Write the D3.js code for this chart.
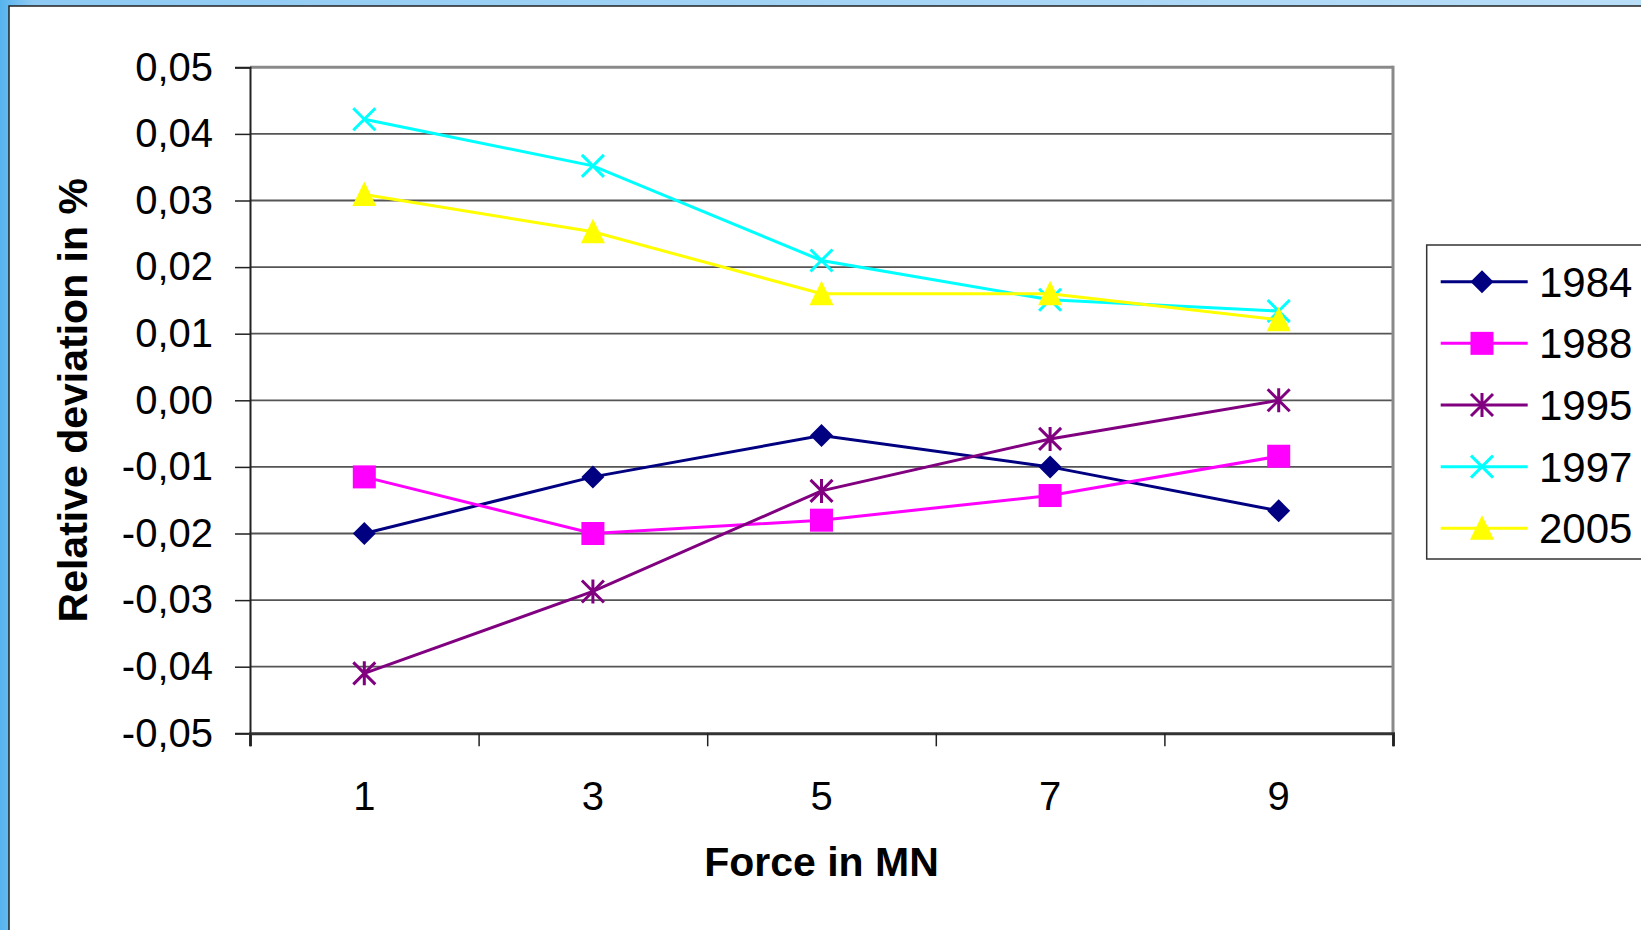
<!DOCTYPE html>
<html lang="en">
    <head>
        <meta charset="utf-8"/>
        <script src="https://d3js.org/d3.v7.min.js"></script>
        <style>
            body { margin: 0; overflow: hidden; }
            text { font-family: Arial, "Liberation Sans", sans-serif; }
        </style>
    </head>
    <body>
        <div id="chart"></div>
    </body>
    <script>
        // data
        var forces = ["1", "3", "5", "7", "9"];
        var years = ["1984", "1988", "1995", "1997", "2005"];
        var dev1984 = [-0.0200, -0.0115, -0.0053, -0.0100, -0.0166];
        var dev1988 = [-0.0115, -0.0200, -0.0180, -0.0143, -0.0084];
        var dev1995 = [-0.0410, -0.0287, -0.0136, -0.0058, 0.0000];
        var dev1997 = [0.0422, 0.0352, 0.0210, 0.0151, 0.0134];
        var dev2005 = [0.0309, 0.0253, 0.0160, 0.0160, 0.0121];
        var yTicks = [-0.05, -0.04, -0.03, -0.02, -0.01, 0, 0.01, 0.02, 0.03, 0.04, 0.05];

        var series = [
            {name: years[0], values: dev1984, color: "#000080", shape: "diamond"},
            {name: years[1], values: dev1988, color: "#ff00ff", shape: "square"},
            {name: years[2], values: dev1995, color: "#800080", shape: "star"},
            {name: years[3], values: dev1997, color: "#00ffff", shape: "cross"},
            {name: years[4], values: dev2005, color: "#ffff00", shape: "triangle"}
        ];

        var W = 1641, H = 930;
        var plot = {left: 250, right: 1393, top: 67.3, bottom: 733.3};

        var svg = d3.select("#chart")
            .append("svg")
                .attr("width", W)
                .attr("height", H)

        // blue frame behind the white slide
        var defs = svg.append("defs")
        var grad = defs.append("linearGradient").attr("id", "bg")
            .attr("x1", "0").attr("y1", "0").attr("x2", "1").attr("y2", "0")
        grad.append("stop").attr("offset", "0").attr("stop-color", "#56b3ee")
        grad.append("stop").attr("offset", "0.02").attr("stop-color", "#8ecaf3")
        grad.append("stop").attr("offset", "1").attr("stop-color", "#b9def8")
        svg.append("rect").attr("width", W).attr("height", H).attr("fill", "url(#bg)")
        svg.append("rect")
            .attr("x", 9).attr("y", 6).attr("width", W).attr("height", H)
            .attr("fill", "white").attr("stroke", "#222").attr("stroke-width", 1.5)

        var x = d3.scaleLinear()
            .domain([0, forces.length])
            .range([plot.left, plot.right])

        var y = d3.scaleLinear()
            .domain([-0.05, 0.05])
            .range([plot.bottom, plot.top])

        var fmt = function (d) {
            return (d < -1e-9 ? "-" : "") + Math.abs(d).toFixed(2).replace(".", ",");
        }

        // gridlines
        svg.append("g")
            .selectAll("line")
            .data(yTicks.slice(1))
            .enter()
            .append("line")
            .attr("x1", plot.left).attr("x2", plot.right)
            .attr("y1", function (d) { return y(d); })
            .attr("y2", function (d) { return y(d); })
            .attr("stroke", function (d) { return d === 0.05 ? "#8a8a8a" : "#555"; })
            .attr("stroke-width", function (d) { return d === 0.05 ? 3 : 1.8; })

        // right border of plot area
        svg.append("line")
            .attr("x1", plot.right).attr("x2", plot.right)
            .attr("y1", plot.top - 1.5).attr("y2", plot.bottom)
            .attr("stroke", "#8a8a8a").attr("stroke-width", 3)

        // y axis
        var yAxis = svg.append("g")
            .attr("transform", "translate(" + plot.left + ",0)")
            .call(d3.axisLeft(y).tickValues(yTicks).tickSize(15).tickPadding(22).tickFormat(fmt))
        yAxis.select(".domain").attr("stroke", "#222").attr("stroke-width", 2)
        yAxis.selectAll(".tick line").attr("stroke", "#222").attr("stroke-width", 1.5)
        yAxis.selectAll("text").attr("font-size", 40).attr("fill", "black")
            .style("font-family", "Arial, 'Liberation Sans', sans-serif")

        // x axis: ticks between categories, labels at centres
        var xAxis = svg.append("g")
            .attr("transform", "translate(0," + plot.bottom + ")")
            .call(d3.axisBottom(x).tickValues(d3.range(forces.length + 1)).tickSize(13).tickFormat(""))
        xAxis.select(".domain").attr("stroke", "#333").attr("stroke-width", 3)
        xAxis.selectAll(".tick line").attr("stroke", "#222").attr("stroke-width", 1.5)

        svg.append("g")
            .selectAll("text")
            .data(forces)
            .enter()
            .append("text")
            .attr("x", function (d, i) { return x(i + 0.5); })
            .attr("y", 810)
            .attr("text-anchor", "middle")
            .attr("font-size", 40)
            .text(function (d) { return d; })

        svg.append("text")
            .attr("x", (plot.left + plot.right) / 2)
            .attr("y", 876)
            .attr("text-anchor", "middle")
            .attr("font-size", 41)
            .attr("font-weight", "bold")
            .text("Force in MN")

        svg.append("text")
            .attr("transform", "translate(87," + (plot.top + plot.bottom) / 2 + ") rotate(-90)")
            .attr("text-anchor", "middle")
            .attr("font-size", 41)
            .attr("font-weight", "bold")
            .text("Relative deviation in %")

        // marker shapes
        function marker(sel, shape, color) {
            var r = 11.5;
            if (shape === "diamond") {
                sel.append("path").attr("d", "M0," + (-r) + "L" + r + ",0L0," + r + "L" + (-r) + ",0Z")
                    .attr("fill", color)
            } else if (shape === "square") {
                sel.append("rect").attr("x", -r).attr("y", -r).attr("width", 2 * r).attr("height", 2 * r)
                    .attr("fill", color)
            } else if (shape === "triangle") {
                sel.append("path").attr("d", "M0,-13L12,11.5L-12,11.5Z").attr("fill", color)
            } else if (shape === "cross") {
                sel.append("path").attr("d", "M-11,-11L11,11M-11,11L11,-11")
                    .attr("stroke", color).attr("stroke-width", 3).attr("fill", "none")
            } else if (shape === "star") {
                sel.append("path").attr("d", "M-11,-11L11,11M-11,11L11,-11M0,-12L0,12")
                    .attr("stroke", color).attr("stroke-width", 3).attr("fill", "none")
            }
        }

        var line = d3.line()
            .x(function (d, i) { return x(i + 0.5); })
            .y(function (d) { return y(d); })

        series.forEach(function (s) {
            var g = svg.append("g")
            g.append("path")
                .attr("d", line(s.values))
                .attr("fill", "none")
                .attr("stroke", s.color)
                .attr("stroke-width", 3)
            g.selectAll("g.pt")
                .data(s.values)
                .enter()
                .append("g")
                .attr("class", "pt")
                .attr("transform", function (d, i) { return "translate(" + x(i + 0.5) + "," + y(d) + ")"; })
                .each(function () { marker(d3.select(this), s.shape, s.color); })
        });

        // legend
        var legend = svg.append("g")
        legend.append("rect")
            .attr("x", 1426.7).attr("y", 245).attr("width", 240).attr("height", 314)
            .attr("fill", "white").attr("stroke", "#333").attr("stroke-width", 1.5)

        var ly = d3.scalePoint().domain(years).range([281.7, 528.3])
        series.forEach(function (s) {
            var row = legend.append("g").attr("transform", "translate(0," + ly(s.name) + ")")
            row.append("line")
                .attr("x1", 1440.7).attr("x2", 1527.7)
                .attr("stroke", s.color).attr("stroke-width", 3)
            var m = row.append("g").attr("transform", "translate(1482,0)")
            marker(m, s.shape, s.color)
            row.append("text")
                .attr("x", 1539)
                .attr("y", 15)
                .attr("font-size", 42)
                .text(s.name)
        });
    </script>
</html>
